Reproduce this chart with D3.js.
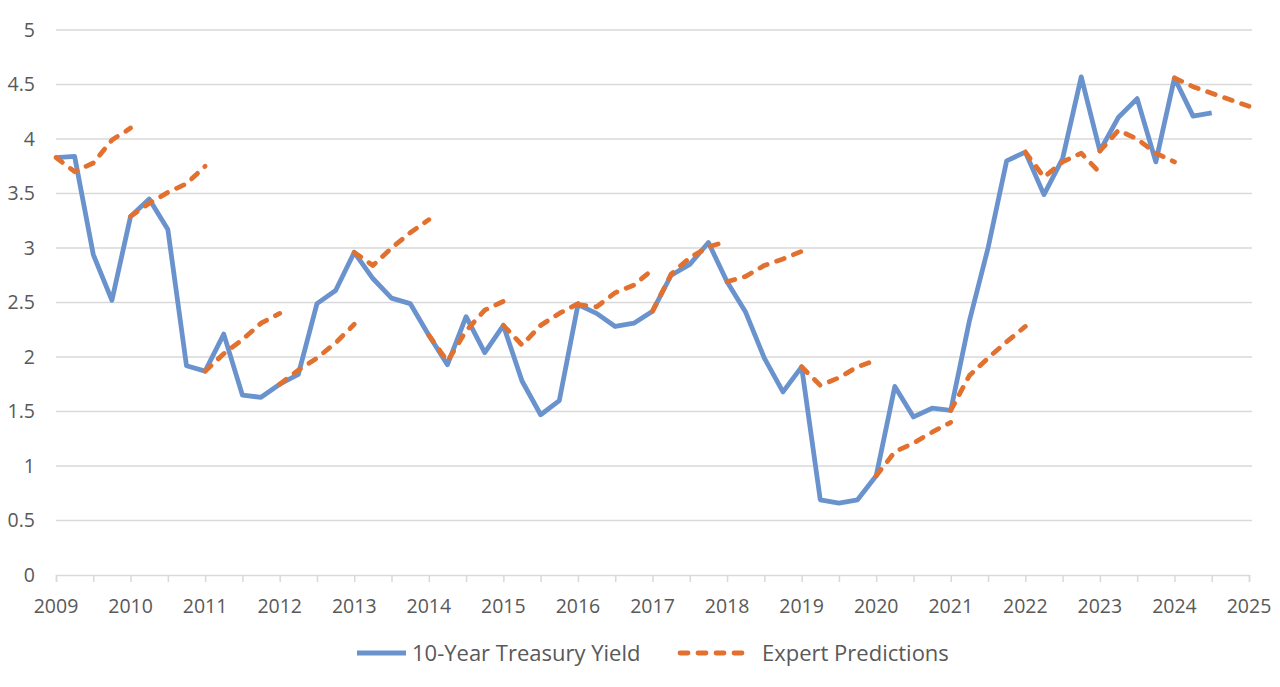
<!DOCTYPE html>
<html>
<head>
<meta charset="utf-8">
<script src="https://cdn.jsdelivr.net/npm/d3@7"></script>
<style>
  body { margin: 0; background: #fff; }
  svg text { font-family: "Segoe UI", "Open Sans", "Noto Sans", sans-serif; fill: #595959; }
</style>
</head>
<body>
<svg id="chart" width="1280" height="687"></svg>
<script>
// quarterly 10-year yield, first point is Q1 2009
var yieldStart = 2009;
var yieldValues = [
  3.83, 3.84, 2.94, 2.52, 3.29, 3.45, 3.17, 1.92,
  1.87, 2.21, 1.65, 1.63, 1.75, 1.84, 2.49, 2.61,
  2.96, 2.72, 2.54, 2.49, 2.20, 1.93, 2.37, 2.04,
  2.29, 1.78, 1.47, 1.60, 2.48, 2.40, 2.28, 2.31,
  2.42, 2.75, 2.85, 3.05, 2.69, 2.41, 1.99, 1.68,
  1.91, 0.69, 0.66, 0.69, 0.91, 1.73, 1.45, 1.53,
  1.51, 2.33, 3.00, 3.80, 3.88, 3.49, 3.82, 4.57,
  3.89, 4.20, 4.37, 3.79, 4.56, 4.21, 4.24
];

// each forecast starts at Q1 of its year, 5 quarterly points
var predictionYears = [2009, 2010, 2011, 2012, 2013, 2014, 2015, 2016,
                       2017, 2018, 2019, 2020, 2021, 2022, 2023, 2024];
var predictionValues = [
  [3.83, 3.70, 3.78, 3.99, 4.10],
  [3.29, 3.41, 3.51, 3.59, 3.75],
  [1.87, 2.03, 2.16, 2.31, 2.40],
  [1.75, 1.88, 1.99, 2.13, 2.30],
  [2.96, 2.84, 3.00, 3.14, 3.26],
  [2.20, 1.96, 2.24, 2.43, 2.51],
  [2.29, 2.11, 2.29, 2.40, 2.49],
  [2.48, 2.46, 2.59, 2.66, 2.80],
  [2.42, 2.76, 2.91, 3.01, 3.06],
  [2.69, 2.74, 2.84, 2.90, 2.97],
  [1.91, 1.74, 1.81, 1.91, 1.97],
  [0.91, 1.13, 1.21, 1.31, 1.40],
  [1.51, 1.83, 1.99, 2.14, 2.28],
  [3.88, 3.65, 3.79, 3.87, 3.69],
  [3.89, 4.08, 4.00, 3.87, 3.79],
  [4.56, 4.48, 4.42, 4.36, 4.30]
];

var yTicks = [0, 0.5, 1, 1.5, 2, 2.5, 3, 3.5, 4, 4.5, 5];
var yearLabels = d3.range(2009, 2026);

var blue = '#6a93ce';
var orange = '#e2702f';
var dash = '8,10';

var svg = d3.select('#chart');

var x = d3.scaleLinear().domain([2009, 2025]).range([56, 1249]);
var y = d3.scaleLinear().domain([0, 5]).range([575, 30]);

// gridlines
svg.append('g')
  .selectAll('line')
  .data(yTicks.filter(function(d){ return d > 0; }))
  .join('line')
  .attr('x1', x(2009))
  .attr('x2', x(2025) + 3)
  .attr('y1', function(d){ return y(d); })
  .attr('y2', function(d){ return y(d); })
  .attr('stroke', '#d9d9d9')
  .attr('stroke-width', 1.5);

// y axis labels
svg.append('g')
  .selectAll('text')
  .data(yTicks)
  .join('text')
  .attr('x', 35)
  .attr('y', function(d){ return y(d); })
  .attr('dy', '0.35em')
  .attr('text-anchor', 'end')
  .style('font-size', '19.5px')
  .text(function(d){ return d; });

// x axis: line, half-year ticks, year labels
var xAxis = d3.axisBottom(x)
  .tickValues(d3.range(2009, 2025.01, 0.5))
  .tickSize(7)
  .tickFormat('');

var gx = svg.append('g')
  .attr('transform', 'translate(0,' + y(0) + ')')
  .call(xAxis);
gx.select('.domain').attr('stroke', '#d9d9d9').attr('stroke-width', 1.5);
gx.selectAll('.tick line').attr('stroke', '#d9d9d9').attr('stroke-width', 1.5);

svg.append('g')
  .selectAll('text')
  .data(yearLabels)
  .join('text')
  .attr('x', function(d){ return x(d); })
  .attr('y', 613)
  .attr('text-anchor', 'middle')
  .style('font-size', '19.5px')
  .text(function(d){ return d; });

var line = d3.line()
  .x(function(d){ return x(d.t); })
  .y(function(d){ return y(d.v); });

// actual yield
var yieldPoints = yieldValues.map(function(v, i){
  return {t: yieldStart + i * 0.25, v: v};
});

svg.append('path')
  .datum(yieldPoints)
  .attr('d', line)
  .attr('fill', 'none')
  .attr('stroke', blue)
  .attr('stroke-width', 4.8)
  .attr('stroke-linejoin', 'round');

// forecasts
predictionYears.forEach(function(yr, k){
  var pts = predictionValues[k].map(function(v, i){
    return {t: yr + i * 0.25, v: v};
  });
  svg.append('path')
    .datum(pts)
    .attr('d', line)
    .attr('fill', 'none')
    .attr('stroke', orange)
    .attr('stroke-width', 4.8)
    .attr('stroke-linecap', 'round')
    .attr('stroke-linejoin', 'round')
    .attr('stroke-dasharray', dash);
});

// legend
var legend = svg.append('g');
legend.append('line')
  .attr('x1', 357).attr('x2', 406)
  .attr('y1', 653).attr('y2', 653)
  .attr('stroke', blue).attr('stroke-width', 4.8);
legend.append('text')
  .attr('x', 412).attr('y', 653).attr('dy', '0.35em')
  .style('font-size', '22px')
  .text('10-Year Treasury Yield');
legend.append('line')
  .attr('x1', 680).attr('x2', 748)
  .attr('y1', 653).attr('y2', 653)
  .attr('stroke', orange).attr('stroke-width', 4.8)
  .attr('stroke-linecap', 'round')
  .attr('stroke-dasharray', dash);
legend.append('text')
  .attr('x', 762).attr('y', 653).attr('dy', '0.35em')
  .style('font-size', '22px')
  .text('Expert Predictions');
</script>
</body>
</html>
